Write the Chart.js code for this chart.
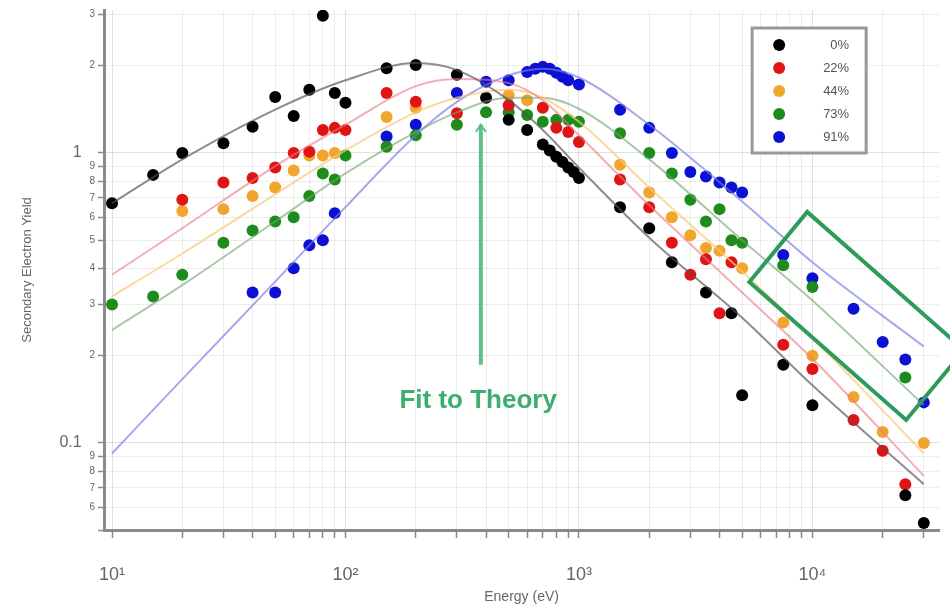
<!DOCTYPE html>
<html>
<head>
<meta charset="utf-8">
<script src="https://cdn.jsdelivr.net/npm/chart.js@4"></script>
<style>
  body { margin: 0; background: #fff; }
  #wrap { width: 950px; height: 606px; }
</style>
</head>
<body>
<div id="wrap"><canvas id="chart"></canvas></div>
<script>
// series names
const seriesNames = ["0%", "22%", "44%", "73%", "91%"];

// measured points (energy in eV, yield)
const e0 = [10, 15, 20, 30, 40, 50, 60, 70, 80, 90, 100, 150, 200, 300, 400, 500, 600, 700, 750, 800, 850, 900, 950, 1000, 1500, 2000, 2500, 3500, 4500, 5000, 7500, 10000, 25000, 30000];
const y0 = [0.67, 0.84, 1.0, 1.08, 1.23, 1.56, 1.34, 1.65, 2.97, 1.61, 1.49, 1.96, 2.01, 1.86, 1.55, 1.30, 1.20, 1.07, 1.02, 0.97, 0.93, 0.89, 0.86, 0.82, 0.65, 0.55, 0.42, 0.33, 0.28, 0.146, 0.186, 0.135, 0.066, 0.053];

const e22 = [20, 30, 40, 50, 60, 70, 80, 90, 100, 150, 200, 300, 500, 700, 800, 900, 1000, 1500, 2000, 2500, 3000, 3500, 4000, 4500, 7500, 10000, 15000, 20000, 25000];
const y22 = [0.69, 0.79, 0.82, 0.89, 1.0, 1.01, 1.2, 1.22, 1.2, 1.61, 1.5, 1.37, 1.46, 1.43, 1.22, 1.18, 1.09, 0.81, 0.65, 0.49, 0.38, 0.43, 0.28, 0.42, 0.218, 0.18, 0.12, 0.094, 0.072];

const e44 = [20, 30, 40, 50, 60, 70, 80, 90, 150, 200, 500, 600, 1500, 2000, 2500, 3000, 3500, 4000, 5000, 7500, 10000, 15000, 20000, 30000];
const y44 = [0.63, 0.64, 0.71, 0.76, 0.87, 0.98, 0.98, 1.0, 1.33, 1.43, 1.58, 1.52, 0.91, 0.73, 0.60, 0.52, 0.47, 0.46, 0.40, 0.26, 0.20, 0.144, 0.109, 0.100];

const e73 = [10, 15, 20, 30, 40, 50, 60, 70, 80, 90, 100, 150, 200, 300, 400, 500, 600, 700, 800, 900, 1000, 1500, 2000, 2500, 3000, 3500, 4000, 4500, 5000, 7500, 10000, 25000];
const y73 = [0.30, 0.32, 0.38, 0.49, 0.54, 0.58, 0.60, 0.71, 0.85, 0.81, 0.98, 1.05, 1.15, 1.25, 1.38, 1.38, 1.35, 1.28, 1.30, 1.30, 1.28, 1.17, 1.0, 0.85, 0.69, 0.58, 0.64, 0.50, 0.49, 0.41, 0.345, 0.168];

const e91 = [40, 50, 60, 70, 80, 90, 150, 200, 300, 400, 500, 600, 650, 700, 750, 800, 850, 900, 1000, 1500, 2000, 2500, 3000, 3500, 4000, 4500, 5000, 7500, 10000, 15000, 20000, 25000, 30000];
const y91 = [0.33, 0.33, 0.40, 0.48, 0.50, 0.62, 1.14, 1.25, 1.61, 1.76, 1.78, 1.90, 1.95, 1.98, 1.95, 1.89, 1.83, 1.78, 1.72, 1.41, 1.22, 1.0, 0.86, 0.83, 0.79, 0.76, 0.73, 0.445, 0.37, 0.29, 0.223, 0.194, 0.138];

// theory fits
const fitE = [10, 20, 50, 100, 200, 300, 500, 700, 1000, 2000, 5000, 10000, 30000];
const fit0 = [0.67, 0.95, 1.41, 1.78, 2.04, 1.93, 1.52, 1.20, 0.89, 0.51, 0.27, 0.158, 0.072];
const fit22 = [0.38, 0.55, 0.90, 1.25, 1.70, 1.80, 1.74, 1.52, 1.15, 0.66, 0.33, 0.195, 0.077];
const fit44 = [0.32, 0.45, 0.72, 1.02, 1.38, 1.55, 1.65, 1.55, 1.28, 0.76, 0.39, 0.23, 0.092];
const fit73 = [0.245, 0.35, 0.58, 0.85, 1.18, 1.38, 1.55, 1.55, 1.42, 0.95, 0.50, 0.31, 0.135];
const fit91 = [0.092, 0.166, 0.36, 0.65, 1.15, 1.50, 1.85, 1.95, 1.82, 1.25, 0.68, 0.42, 0.215];

// axis ticks
const xTicks = [10, 20, 30, 40, 50, 60, 70, 80, 90, 100, 200, 300, 400, 500, 600, 700, 800, 900, 1000, 2000, 3000, 4000, 5000, 6000, 7000, 8000, 9000, 10000, 20000, 30000];
const xTickLabels = { 10: "10¹", 100: "10²", 1000: "10³", 10000: "10⁴" };
const yTicks = [0.05, 0.06, 0.07, 0.08, 0.09, 0.1, 0.2, 0.3, 0.4, 0.5, 0.6, 0.7, 0.8, 0.9, 1, 2, 3];
const yTickLabels = ["", "6", "7", "8", "9", "0.1   ", "2", "3", "4", "5", "6", "7", "8", "9", "1   ", "2", "3"];

// annotation (data coordinates)
const arrowE = 380, arrowTop = 1.25, arrowBottom = 0.186;
const noteE = 370, noteY = 0.14;
const boxCorners = [[5370, 0.359], [9500, 0.626], [44700, 0.209], [25200, 0.12]];

const pointColors = ["#000000", "#e01414", "#f2a52c", "#1d8c1d", "#0c10d2"];
const fitColors = ["rgba(80,80,80,0.65)", "rgba(232,120,130,0.6)", "rgba(250,200,120,0.7)", "rgba(110,165,110,0.6)", "rgba(120,120,230,0.65)"];

const allE = [e0, e22, e44, e73, e91];
const allY = [y0, y22, y44, y73, y91];
const allFit = [fit0, fit22, fit44, fit73, fit91];

function pairs(xs, ys) {
  return xs.map((x, i) => ({ x: x, y: ys[i] }));
}

const datasets = [];
allFit.forEach((f, i) => {
  datasets.push({
    label: "fit " + seriesNames[i],
    data: pairs(fitE, f),
    showLine: true,
    pointRadius: 0,
    borderColor: fitColors[i],
    borderWidth: 2,
    cubicInterpolationMode: "monotone"
  });
});
allE.forEach((e, i) => {
  datasets.push({
    label: seriesNames[i],
    data: pairs(e, allY[i]),
    pointRadius: 6,
    pointBorderWidth: 0,
    backgroundColor: pointColors[i],
    borderColor: pointColors[i]
  });
});

const legendBox = {
  id: "legendBox",
  afterDatasetsDraw(chart) {
    const ctx = chart.ctx;
    const area = chart.chartArea;
    const bx = area.right - 187, by = area.top + 18, bw = 114, bh = 125;
    ctx.save();
    ctx.fillStyle = "#fff";
    ctx.fillRect(bx, by, bw, bh);
    ctx.strokeStyle = "#999";
    ctx.lineWidth = 3;
    ctx.strokeRect(bx, by, bw, bh);
    ctx.font = '13px "Liberation Sans", Arial, sans-serif';
    ctx.textAlign = "right";
    ctx.textBaseline = "middle";
    seriesNames.forEach((name, i) => {
      const ry = by + 17 + i * 23;
      ctx.fillStyle = pointColors[i];
      ctx.beginPath();
      ctx.arc(bx + 27, ry, 6, 0, Math.PI * 2);
      ctx.fill();
      ctx.fillStyle = "#555";
      ctx.fillText(name, bx + 97, ry);
    });
    ctx.restore();
  }
};

const notes = {
  id: "notes",
  afterDraw(chart) {
    const ctx = chart.ctx;
    const xs = chart.scales.x, ys = chart.scales.y;
    ctx.save();
    // arrow
    const ax = xs.getPixelForValue(arrowE);
    const aTop = ys.getPixelForValue(arrowTop);
    const aBot = ys.getPixelForValue(arrowBottom);
    ctx.strokeStyle = "#5cc08a";
    ctx.lineWidth = 4;
    ctx.beginPath();
    ctx.moveTo(ax, aBot);
    ctx.lineTo(ax, aTop);
    ctx.stroke();
    ctx.lineWidth = 2;
    ctx.beginPath();
    ctx.moveTo(ax - 5, aTop + 7);
    ctx.lineTo(ax, aTop);
    ctx.lineTo(ax + 5, aTop + 7);
    ctx.stroke();
    // label
    ctx.fillStyle = "#3dae70";
    ctx.font = 'bold 26px "Liberation Sans", Arial, sans-serif';
    ctx.textAlign = "center";
    ctx.textBaseline = "middle";
    ctx.fillText("Fit to Theory", xs.getPixelForValue(noteE), ys.getPixelForValue(noteY));
    // highlight box
    ctx.strokeStyle = "#2e9b5c";
    ctx.lineWidth = 4;
    ctx.lineJoin = "miter";
    ctx.beginPath();
    boxCorners.forEach((c, i) => {
      const px = xs.getPixelForValue(c[0]), py = ys.getPixelForValue(c[1]);
      if (i === 0) ctx.moveTo(px, py); else ctx.lineTo(px, py);
    });
    ctx.closePath();
    ctx.stroke();
    ctx.restore();
  }
};

new Chart(document.getElementById("chart"), {
  type: "scatter",
  data: { datasets: datasets },
  options: {
    responsive: true,
    maintainAspectRatio: false,
    animation: false,
    layout: { padding: { left: 20, right: 10, top: 10, bottom: 0 } },
    plugins: {
      legend: { display: false },
      tooltip: { enabled: false }
    },
    scales: {
      x: {
        type: "logarithmic",
        min: 9.24,
        max: 34900,
        afterBuildTicks: (s) => { s.ticks = xTicks.map(v => ({ value: v })); },
        afterFit: (s) => { s.height = 76; },
        border: { color: "#8a8a8a", width: 3 },
        grid: {
          color: (c) => (c.tick && xTickLabels[c.tick.value]) ? "rgba(0,0,0,0.12)" : "rgba(0,0,0,0.07)",
          tickColor: "#8a8a8a",
          tickLength: 8,
          tickWidth: 1.5
        },
        ticks: {
          autoSkip: false,
          maxRotation: 0,
          padding: 26,
          color: "#666",
          font: { family: '"Liberation Sans", Arial, sans-serif', size: 18 },
          callback: (v) => xTickLabels[v] || ""
        },
        title: {
          display: true,
          text: "Energy (eV)",
          color: "#666",
          font: { family: '"Liberation Sans", Arial, sans-serif', size: 14 },
          padding: { top: 0, bottom: 0 }
        }
      },
      y: {
        type: "logarithmic",
        min: 0.0501,
        max: 3.11,
        afterBuildTicks: (s) => { s.ticks = yTicks.map(v => ({ value: v })); },
        afterFit: (s) => { s.width = 84; },
        border: { color: "#8a8a8a", width: 3 },
        grid: {
          color: (c) => (c.tick && (c.tick.value === 1 || c.tick.value === 0.1)) ? "rgba(0,0,0,0.12)" : "rgba(0,0,0,0.07)",
          tickColor: "#8a8a8a",
          tickLength: 6,
          tickWidth: 1.5
        },
        ticks: {
          autoSkip: false,
          padding: 3,
          color: "#666",
          font: (c) => {
            const big = c.tick && (c.tick.value === 1 || c.tick.value === 0.1);
            return { family: '"Liberation Sans", Arial, sans-serif', size: big ? 16 : 10 };
          },
          callback: (v) => {
            const i = yTicks.indexOf(v);
            return i >= 0 ? yTickLabels[i] : "";
          }
        },
        title: {
          display: true,
          text: "Secondary Electron Yield",
          color: "#666",
          font: { family: '"Liberation Sans", Arial, sans-serif', size: 13 },
          padding: { top: 0, bottom: 0 }
        }
      }
    }
  },
  plugins: [legendBox, notes]
});
</script>
</body>
</html>
